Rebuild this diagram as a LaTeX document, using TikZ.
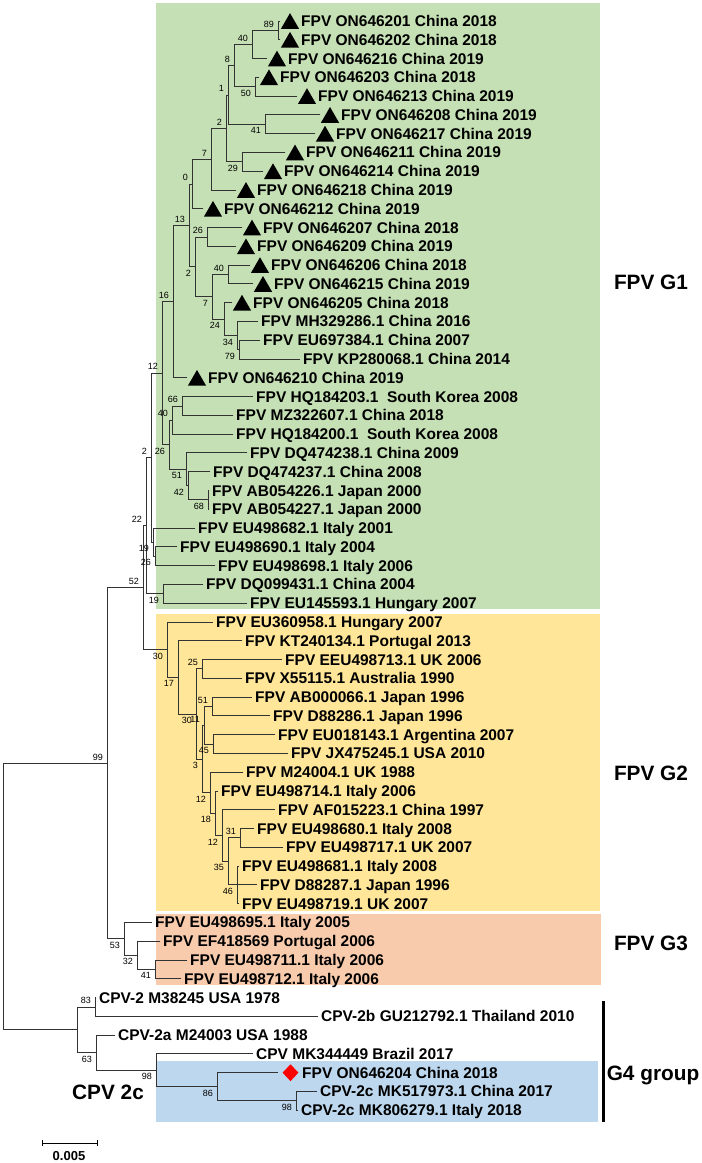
\documentclass[tikz,border=0pt]{standalone}
\usepackage{fontspec}
\setmainfont{Liberation Sans}
\usetikzlibrary{shapes.geometric,positioning}

\definecolor{gone}{HTML}{C5E0B4}
\definecolor{gtwo}{HTML}{FFE699}
\definecolor{gthree}{HTML}{F8CBAD}
\definecolor{gfour}{HTML}{BDD7EE}

\newcommand{\leaffont}{\fontsize{15.5}{17}\selectfont\bfseries}
\newcommand{\bootfont}{\fontsize{9}{10}\selectfont}
\newcommand{\groupfont}{\fontsize{20.8}{24}\selectfont\bfseries}

\tikzset{
  branch/.style={draw=black!80, line width=0.9pt, line cap=rect},
  leaf/.style={anchor=west, inner sep=3pt, text height=11pt, text depth=0pt, font=\leaffont},
  trimark/.style={regular polygon, regular polygon sides=3, fill=black, inner sep=0pt, minimum size=21pt},
  redmark/.style={diamond, fill=red, inner sep=0pt, minimum width=16pt, minimum height=17pt},
  boot/.style={font=\bootfont, inner sep=1.5pt},
  grouplabel/.style={font=\groupfont},
}

\begin{document}
\begin{tikzpicture}[x=1pt, y=-1pt]
\useasboundingbox (0,0) rectangle (702,1163);
% group boxes
\fill[gone] (156,3) rectangle (600,609);
\fill[gtwo] (156,614) rectangle (600,911);
\fill[gthree] (156,914) rectangle (601,985);
\fill[gfour] (156,1061) rectangle (598,1122);
\draw[line width=3pt] (603,1001) -- (603,1122);

\begin{scope}[y=-18.78pt, yshift=-2.22pt]
% leaves with a triangle
\foreach \rw/\tx/\lab in {1/280/{FPV ON646201 China 2018}, 2/280/{FPV ON646202 China 2018},
    3/267/{FPV ON646216 China 2019}, 4/259/{FPV ON646203 China 2018}, 5/297/{FPV ON646213 China 2019},
    6/320/{FPV ON646208 China 2019}, 7/315/{FPV ON646217 China 2019}, 8/285/{FPV ON646211 China 2019},
    9/263/{FPV ON646214 China 2019}, 10/236/{FPV ON646218 China 2019}, 11/203/{FPV ON646212 China 2019},
    12/242/{FPV ON646207 China 2018}, 13/236/{FPV ON646209 China 2019}, 14/250/{FPV ON646206 China 2018},
    15/253/{FPV ON646215 China 2019}, 16/232/{FPV ON646205 China 2018}, 20/187/{FPV ON646210 China 2019}}
{
  \coordinate (l\rw) at (\tx,\rw);
  \node[trimark] (m\rw) at ([xshift=10pt, yshift=-2.6pt]l\rw) {};
  \node[leaf] (t\rw) at ([xshift=18pt]l\rw) {\lab};
}
% plain leaves
\foreach \rw/\tx/\lab in {17/258/{FPV MH329286.1 China 2016}, 18/260/{FPV EU697384.1 China 2007},
    19/300/{FPV KP280068.1 China 2014}, 21/253/{FPV HQ184203.1~ South Korea 2008},
    22/233/{FPV MZ322607.1 China 2018}, 23/233/{FPV HQ184200.1~ South Korea 2008},
    24/247/{FPV DQ474238.1 China 2009}, 25/210/{FPV DQ474237.1 China 2008},
    26/209/{FPV AB054226.1 Japan 2000}, 27/209/{FPV AB054227.1 Japan 2000},
    28/195/{FPV EU498682.1 Italy 2001}, 29/177/{FPV EU498690.1 Italy 2004},
    30/215/{FPV EU498698.1 Italy 2006}, 31/203/{FPV DQ099431.1 China 2004},
    32/247/{FPV EU145593.1 Hungary 2007}, 33/213/{FPV EU360958.1 Hungary 2007},
    34/242/{FPV KT240134.1 Portugal 2013}, 35/282/{FPV EEU498713.1 UK 2006},
    36/242/{FPV X55115.1 Australia 1990}, 37/252/{FPV AB000066.1 Japan 1996},
    38/270/{FPV D88286.1 Japan 1996}, 39/275/{FPV EU018143.1 Argentina 2007},
    40/288/{FPV JX475245.1 USA 2010}, 41/243/{FPV M24004.1 UK 1988},
    42/218/{FPV EU498714.1 Italy 2006}, 43/275/{FPV AF015223.1 China 1997},
    44/254/{FPV EU498680.1 Italy 2008}, 45/283/{FPV EU498717.1 UK 2007},
    46/239/{FPV EU498681.1 Italy 2008}, 47/257/{FPV D88287.1 Japan 1996},
    48/239/{FPV EU498719.1 UK 2007}, 49/152/{FPV EU498695.1 Italy 2005},
    50/160/{FPV EF418569 Portugal 2006}, 51/187/{FPV EU498711.1 Italy 2006},
    52/181/{FPV EU498712.1 Italy 2006}, 53/96/{CPV-2 M38245 USA 1978},
    54/318/{CPV-2b GU212792.1 Thailand 2010}, 55/115/{CPV-2a M24003 USA 1988},
    56/253/{CPV MK344449 Brazil 2017}, 58/317/{CPV-2c MK517973.1 China 2017},
    59/298/{CPV-2c MK806279.1 Italy 2018}}
{
  \coordinate (l\rw) at (\tx,\rw);
  \node[leaf] (t\rw) at (l\rw) {\lab};
}
\coordinate (l57) at (278,57);
\node[redmark] (m57) at ([xshift=12.5pt]l57) {};
\node[leaf] (t57) at ([xshift=21pt]l57) {FPV ON646204 China 2018};

% internal nodes
\foreach \nm/\nx/\ny in {n89/278/1.5, n40/252/2.25, n50/255/4.5, n8/234/3.375, n41/265/6.5,
    n1/228/4.9375, n29/242/8.5, n2/226/6.71875, n7/211/8.359375, n0/192/9.6796875,
    n26/207/12.5, n40b/228/14.5, n79/239/18.5, n34/237/17.75, n24/224/16.875,
    n7b/212/15.6875, n2b/195/14.09375, n13/189/11.88672, n16/173/15.94336,
    n66/182/21.5, n40c/172/22.25, n68/208/26.5, n42/188/25.75, n51/186/24.875,
    n26b/169/23.5625, n12/162/19.75293, n26c/155/29.5, n19b/153/28.75, n2c/151/24.25147,
    n19c/163/31.5, n22/146/27.87573, n52/143/31.17517,
    n30/167/34.47461, n17/178/35.94922, n30b/196/37.89844, n25/202/35.5, n3/202/40.29688,
    n11/204/38.5, n51b/212/37.5, n45/213/39.5, n12a/210/42.09375, n18/215/43.1875,
    n12b/222/44.375, n35/228/45.75, n31/240/44.5, n46/237/47,
    n53/124/49.875, n32/137/50.75, n41b/155/51.5, n99/107/40.52509,
    n83/95/53.5, n63/96/55.9375, n98b/156/56.875, n86/217/57.75, n98c/296/58.5,
    n77/77/54.71875, root/3/47.62192}
  \coordinate (\nm) at (\nx,\ny);

% branches
\foreach \pa/\ch in {n89/l1, n89/l2, n40/n89, n40/l3, n50/l4, n50/l5, n8/n40, n8/n50,
    n41/l6, n41/l7, n1/n8, n1/n41, n29/l8, n29/l9, n2/n1, n2/n29, n7/n2, n7/l10,
    n0/n7, n0/l11, n26/l12, n26/l13, n40b/l14, n40b/l15, n79/l18, n79/l19,
    n34/l17, n34/n79, n24/l16, n24/n34, n7b/n40b, n7b/n24, n2b/n26, n2b/n7b,
    n13/n0, n13/n2b, n16/n13, n16/l20, n66/l21, n66/l22, n40c/n66, n40c/l23,
    n68/l26, n68/l27, n42/l25, n42/n68, n51/l24, n51/n42, n26b/n40c, n26b/n51,
    n12/n16, n12/n26b, n26c/l29, n26c/l30, n19b/l28, n19b/n26c, n2c/n12, n2c/n19b,
    n19c/l31, n19c/l32, n22/n2c, n22/n19c, n52/n22, n52/n30,
    n30/l33, n30/n17, n17/l34, n17/n30b, n30b/n25, n30b/n3, n25/l35, n25/l36,
    n3/n11, n3/n12a, n11/n51b, n11/n45, n51b/l37, n51b/l38, n45/l39, n45/l40,
    n12a/l41, n12a/n18, n18/l42, n18/n12b, n12b/l43, n12b/n35, n35/n31, n35/n46,
    n31/l44, n31/l45, n46/l46, n46/l47, n46/l48,
    n53/l49, n53/n32, n32/l50, n32/n41b, n41b/l51, n41b/l52, n99/n52, n99/n53,
    n83/l53, n83/l54, n63/l55, n63/n98b, n98b/l56, n98b/n86, n86/l57, n86/n98c,
    n98c/l58, n98c/l59, n77/n83, n77/n63, root/n99, root/n77}
  \draw[branch] (\pa) |- (\ch);

% bootstrap values
\foreach \nm/\bv in {n89/89, n40/40, n8/8, n1/1, n2/2, n7/7, n0/0, n26/26, n40b/40,
    n13/13, n16/16, n66/66, n40c/40, n12/12, n2c/2, n22/22, n52/52,
    n25/25, n11/11, n51b/51, n31/31, n99/99, n83/83}
  \node[boot, above left=1.5pt and 2.5pt] at (\nm) {\bv};
\foreach \nm/\bv in {n50/50, n41/41, n29/29, n79/79, n34/34, n24/24, n7b/7, n2b/2,
    n68/68, n42/42, n51/51, n26b/26, n26c/26, n19b/19, n19c/19,
    n30/30, n17/17, n30b/30, n3/3, n45/45, n12a/12, n18/18, n12b/12, n35/35, n46/46,
    n53/53, n32/32, n41b/41, n63/63, n98b/98, n86/86, n98c/98}
  \node[boot, below left=1.5pt and 2.5pt] at (\nm) {\bv};
\end{scope}

% group names
\node[grouplabel] (g1) at (651,282) {FPV G1};
\node[grouplabel] (g2) at (651,773) {FPV G2};
\node[grouplabel] (g3) at (651,943) {FPV G3};
\node[grouplabel] (g4) at (653,1075) {G4 group};
\node[grouplabel] (c2c) at (108,1092) {CPV 2c};

% scale bar
\draw[line width=0.9pt] (42,1143) -- (97,1143);
\draw[line width=0.9pt] (42,1140) -- (42,1146) (97,1140) -- (97,1146);
\node[font=\fontsize{13}{14}\selectfont\bfseries] (sc) at (69,1156) {0.005};
\end{tikzpicture}
\end{document}
